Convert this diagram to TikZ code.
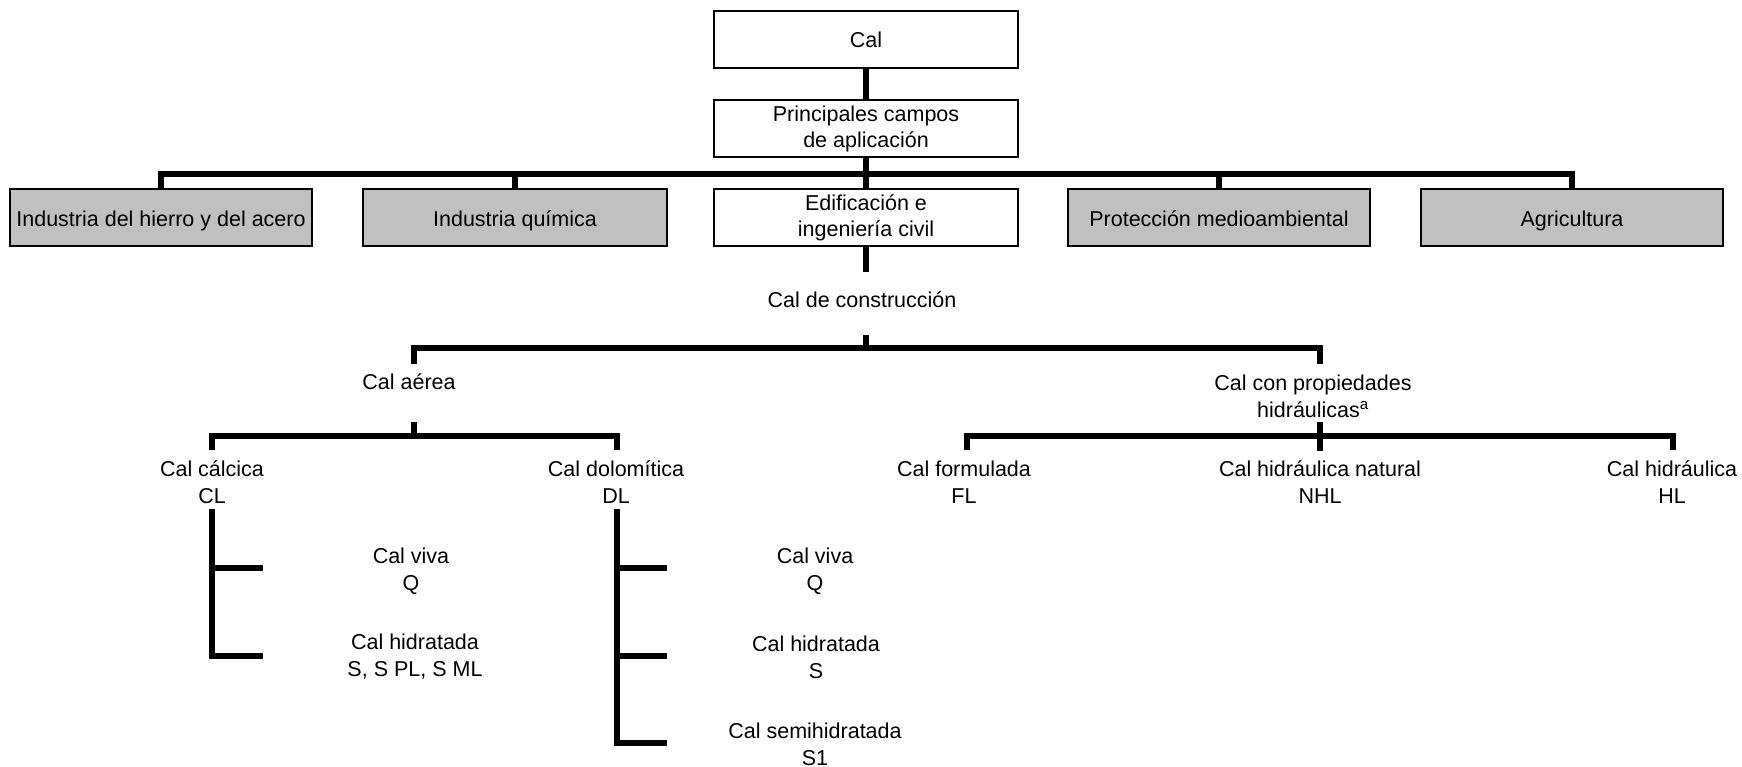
\documentclass[tikz,border=0pt]{standalone}
\usepackage{fontspec}
\setmainfont{Liberation Sans}
\begin{document}
\begin{tikzpicture}[x=1pt,y=-1pt,
  box/.style={draw=black,line width=2pt,minimum width=304pt,minimum height=57pt,inner sep=0pt,align=center,font=\fontsize{21.5}{26}\selectfont},
  graybox/.style={box,fill=boxgray,text height=19pt,text depth=1pt},
  lbl/.style={inner sep=0pt,align=center,font=\fontsize{21.5}{27}\selectfont},
  conn/.style={line width=6pt,line cap=butt,line join=miter}]
\definecolor{boxgray}{RGB}{192,192,192}
\useasboundingbox[fill=white] (0,0) rectangle (1742,767);
% boxes
\node[box] (cal) at (866,40) {Cal};
\node[box] (princ) at (866,129) {Principales campos\\de aplicación};
\node[graybox,minimum width=302pt] (b1) at (161,217.5) {Industria del hierro y del acero};
\node[graybox] (b2) at (515,217.5) {Industria química};
\node[box] (b3) at (866,217.5) {Edificación e\\ingeniería civil};
\node[graybox,minimum width=302pt] (b4) at (1219,217.5) {Protección medioambiental};
\node[graybox,minimum width=302pt] (b5) at (1572,217.5) {Agricultura};
% labels
\node[lbl] (constr) at (862,300) {Cal de construcción};
\node[lbl] (aer) at (409,382) {Cal aérea};
\node[lbl] (hid) at (1313,396) {Cal con propiedades\\hidráulicas\textsuperscript{a}};
\node[lbl] (cl) at (212,482) {Cal cálcica\\CL};
\node[lbl] (dl) at (616,482) {Cal dolomítica\\DL};
\node[lbl] (fl) at (964,482) {Cal formulada\\FL};
\node[lbl] (nhl) at (1320,482) {Cal hidráulica natural\\NHL};
\node[lbl] (hl) at (1672,482) {Cal hidráulica\\HL};
\node[lbl] (clq) at (411,571) {Cal viva\\Q};
\node[lbl] (cls) at (415,657) {Cal hidratada\\S, S PL, S ML};
\node[lbl] (dlq) at (815,571) {Cal viva\\Q};
\node[lbl] (dls) at (816,657) {Cal hidratada\\S};
\node[lbl] (dls1) at (815,744) {Cal semihidratada\\S1};
% level 1
\draw[conn] (cal.south) -- (princ.north);
\coordinate (j1) at (866,174);
\draw[conn] (princ.south) -- (b3.north);
\draw[conn] (b1.north) -- (b1.north |- j1) -- (b5.north |- j1) -- (b5.north);
\draw[conn] (b2.north) -- (b2.north |- j1);
\draw[conn] (b4.north) -- (b4.north |- j1);
% construction
\coordinate (c1) at (866,272);
\draw[conn] (b3.south) -- (c1);
\coordinate (c2) at (866,335);
\coordinate (c3) at (866,348);
\coordinate (aerTop) at (414,364);
\coordinate (hidTop) at (1320,364);
\draw[conn] (c2) -- (c3);
\draw[conn] (aerTop) -- (aerTop |- c3) -- (hidTop |- c3) -- (hidTop);
% aerea
\coordinate (a1) at (414,422);
\coordinate (a2) at (414,436);
\coordinate (clTop) at (212,450);
\coordinate (dlTop) at (617,450);
\draw[conn] (a1) -- (a2);
\draw[conn] (clTop) -- (clTop |- a2) -- (dlTop |- a2) -- (dlTop);
% hidraulica
\coordinate (h1) at (1320,422);
\coordinate (h2) at (1320,451);
\coordinate (hb) at (1320,436);
\coordinate (flTop) at (967,450);
\coordinate (hlTop) at (1673,450);
\draw[conn] (h1) -- (h2);
\draw[conn] (flTop) -- (flTop |- hb) -- (hlTop |- hb) -- (hlTop);
% CL branch
\coordinate (clv) at (212,509);
\coordinate (clt1) at (263,568);
\coordinate (clt2) at (263,656);
\draw[conn] (clv) -- (clv |- clt2) -- (clt2);
\draw[conn] (clv |- clt1) -- (clt1);
% DL branch
\coordinate (dlv) at (617,509);
\coordinate (dlt1) at (667,568);
\coordinate (dlt2) at (667,656);
\coordinate (dlt3) at (667,743);
\draw[conn] (dlv) -- (dlv |- dlt3) -- (dlt3);
\draw[conn] (dlv |- dlt1) -- (dlt1);
\draw[conn] (dlv |- dlt2) -- (dlt2);
\end{tikzpicture}
\end{document}
